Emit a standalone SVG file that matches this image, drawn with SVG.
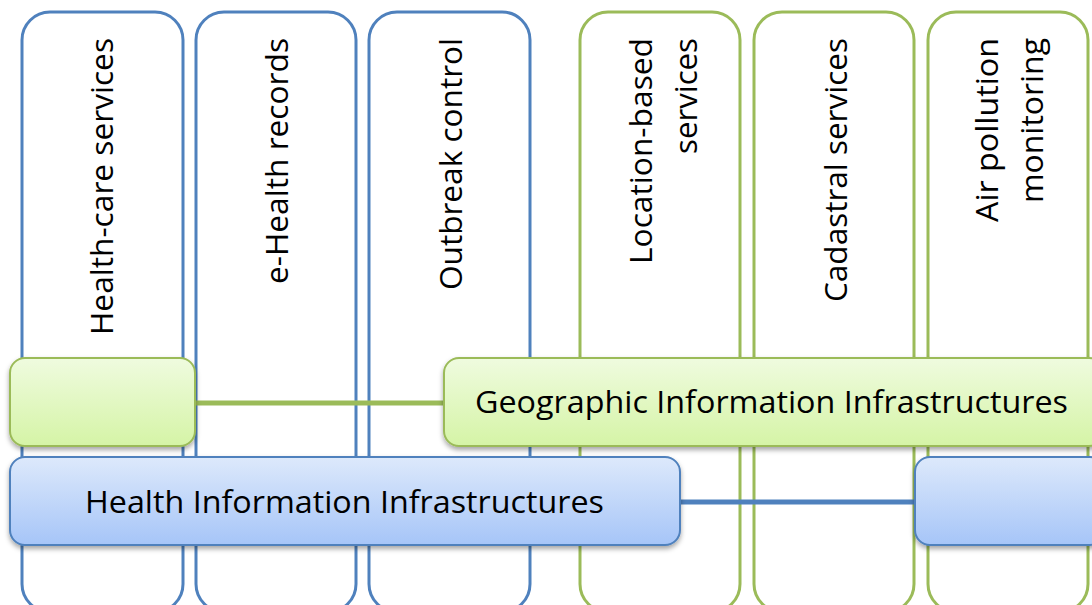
<svg xmlns="http://www.w3.org/2000/svg" width="1092" height="605" viewBox="0 0 1092 605">
<defs>
<linearGradient id="gGreen" x1="0" y1="0" x2="0" y2="1">
<stop offset="0" stop-color="#EFFBDF"/>
<stop offset="1" stop-color="#D5F4A6"/>
</linearGradient>
<linearGradient id="gBlue" x1="0" y1="0" x2="0" y2="1">
<stop offset="0" stop-color="#DDE9FB"/>
<stop offset="1" stop-color="#A6C5F8"/>
</linearGradient>
<filter id="shadow" x="-10%" y="-20%" width="120%" height="160%">
<feDropShadow dx="0" dy="3" stdDeviation="2.5" flood-color="#000" flood-opacity="0.35"/>
</filter>
</defs>
<style>
.colB{fill:none;stroke:#4F81BD;stroke-width:3}
.colG{fill:none;stroke:#9BBB59;stroke-width:3}
.boxG{fill:url(#gGreen);stroke:#9BBB59;stroke-width:2;filter:url(#shadow)}
.boxB{fill:url(#gBlue);stroke:#4F81BD;stroke-width:2;filter:url(#shadow)}
.lnG{stroke:#9BBB59;stroke-width:5}
.lnB{stroke:#4F81BD;stroke-width:5}
text{font-family:"Open Sans","Liberation Sans",sans-serif;font-size:31px;fill:#000}
.v{text-anchor:end}
</style>
<rect width="1092" height="605" fill="#fff"/>
<g id="col-healthcare"><rect class="colB" x="22" y="12" width="161" height="600" rx="28"/>
<text class="v" transform="translate(113,38) rotate(-90)" textLength="297" lengthAdjust="spacingAndGlyphs">Health-care services</text></g>
<g id="col-ehealth"><rect class="colB" x="196" y="12" width="160" height="600" rx="28"/>
<text class="v" transform="translate(288,38) rotate(-90)" textLength="246" lengthAdjust="spacingAndGlyphs">e-Health records</text></g>
<g id="col-outbreak"><rect class="colB" x="369" y="12" width="161" height="600" rx="28"/>
<text class="v" transform="translate(462,38) rotate(-90)" textLength="252" lengthAdjust="spacingAndGlyphs">Outbreak control</text></g>
<g id="col-location"><rect class="colG" x="580" y="12" width="160" height="600" rx="28"/>
<text class="v" transform="translate(652,38) rotate(-90)" textLength="226" lengthAdjust="spacingAndGlyphs">Location-based</text>
<text class="v" transform="translate(697,38) rotate(-90)" textLength="116" lengthAdjust="spacingAndGlyphs">services</text></g>
<g id="col-cadastral"><rect class="colG" x="754" y="12" width="160" height="600" rx="28"/>
<text class="v" transform="translate(847,38) rotate(-90)" textLength="264" lengthAdjust="spacingAndGlyphs">Cadastral services</text></g>
<g id="col-air"><rect class="colG" x="928" y="12" width="160" height="600" rx="28"/>
<text class="v" transform="translate(998,38) rotate(-90)" textLength="184" lengthAdjust="spacingAndGlyphs">Air pollution</text>
<text class="v" transform="translate(1043,38) rotate(-90)" textLength="165" lengthAdjust="spacingAndGlyphs">monitoring</text></g>
<g id="connectors">
<line class="lnG" x1="195" y1="403" x2="445" y2="403"/>
<line class="lnB" x1="679" y1="502" x2="916" y2="502"/>
</g>
<g id="gii-left"><rect class="boxG" x="10" y="358" width="185" height="88" rx="15"/></g>
<g id="gii"><rect class="boxG" x="444" y="358" width="660" height="88" rx="15"/>
<text x="475" y="413" textLength="593" lengthAdjust="spacingAndGlyphs">Geographic Information Infrastructures</text></g>
<g id="hii"><rect class="boxB" x="10" y="457" width="670" height="88" rx="15"/>
<text x="85" y="513" textLength="519" lengthAdjust="spacingAndGlyphs">Health Information Infrastructures</text></g>
<g id="hii-right"><rect class="boxB" x="915" y="457" width="190" height="88" rx="15"/></g>
</svg>
